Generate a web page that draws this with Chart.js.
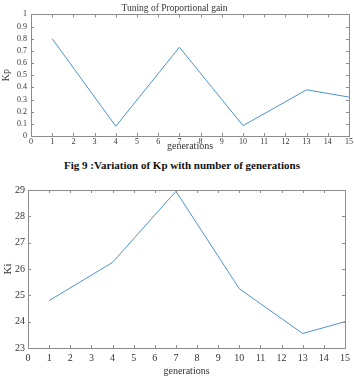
<!DOCTYPE html>
<html>
<head>
<meta charset="utf-8">
<script src="https://cdn.jsdelivr.net/npm/chart.js@4.4.0/dist/chart.umd.min.js"></script>
<style>
  body { margin: 0; background: #fff; width: 354px; height: 384px; overflow: hidden; position: relative; font-family: "Liberation Serif", serif; }
  #kp { position: absolute; left: 0; top: 0; }
  #ki { position: absolute; left: 0; top: 176px; }
  .caption { position: absolute; top: 159px; left: 0; width: 364px; text-align: center; font-weight: bold; font-size: 11px; color: #111; }
</style>
</head>
<body>
<canvas id="kp" width="354" height="152"></canvas>
<div class="caption">Fig 9 :Variation of Kp with number of generations</div>
<canvas id="ki" width="354" height="208"></canvas>
<script>
const generations = [1, 4, 7, 10, 13, 15];
const kpValues = [0.8, 0.08, 0.73, 0.085, 0.38, 0.32];
const kiValues = [24.8, 26.25, 28.95, 25.25, 23.55, 24.0];

const lineColor = "#4d94cc";
const axisColor = "#8c8c8c";
const textColor = "#333";
const serif = "'Liberation Serif', 'Times New Roman', serif";

// box round the plot + little inward ticks, like matlab
const boxTicks = {
  id: "boxTicks",
  afterDraw(chart) {
    const { ctx, chartArea: a, scales } = chart;
    const len = 3;
    ctx.save();
    ctx.strokeStyle = axisColor;
    ctx.lineWidth = 1;
    ctx.strokeRect(Math.round(a.left) + 0.5, Math.round(a.top) + 0.5, Math.round(a.width), Math.round(a.height));
    ctx.beginPath();
    scales.x.ticks.forEach((t) => {
      const px = Math.round(scales.x.getPixelForValue(t.value)) + 0.5;
      ctx.moveTo(px, a.bottom); ctx.lineTo(px, a.bottom - len);
      ctx.moveTo(px, a.top); ctx.lineTo(px, a.top + len);
    });
    scales.y.ticks.forEach((t) => {
      const py = Math.round(scales.y.getPixelForValue(t.value)) + 0.5;
      ctx.moveTo(a.left, py); ctx.lineTo(a.left + len, py);
      ctx.moveTo(a.right, py); ctx.lineTo(a.right - len, py);
    });
    ctx.stroke();
    ctx.restore();
  },
};

function makeChart(id, values, o) {
  return new Chart(document.getElementById(id), {
    type: "line",
    data: {
      datasets: [{
        data: generations.map((g, i) => ({ x: g, y: values[i] })),
        borderColor: lineColor,
        borderWidth: 1,
        pointRadius: 0,
        tension: 0,
      }],
    },
    options: {
      responsive: false,
      animation: false,
      layout: { padding: o.padding },
      plugins: {
        legend: { display: false },
        tooltip: { enabled: false },
        title: o.title
          ? { display: true, text: o.title, color: textColor, font: { family: serif, size: 9.5, weight: "normal" }, padding: { top: 3, bottom: 0 } }
          : { display: false },
      },
      scales: {
        x: {
          type: "linear", min: 0, max: 15,
          grid: { display: false, drawTicks: false },
          border: { display: false },
          ticks: { stepSize: 1, autoSkip: false, maxRotation: 0, color: textColor, padding: o.xPad, font: { family: serif, size: o.tickSize } },
          title: { display: true, text: "generations", color: textColor, font: { family: serif, size: 10 }, padding: { top: 0, bottom: o.xTitlePad } },
          afterFit: (s) => { s.height = o.xHeight; },
        },
        y: {
          min: o.yMin, max: o.yMax,
          grid: { display: false, drawTicks: false },
          border: { display: false },
          ticks: {
            stepSize: o.yStep, autoSkip: false, color: textColor, padding: o.yPad, font: { family: serif, size: o.tickSize },
            callback: (v) => String(Number(v.toFixed(2))), // 0, 0.1 ... 1 like matlab
          },
          title: { display: true, text: o.yLabel, color: textColor, font: { family: serif, size: o.yLabelSize }, padding: { top: o.yTitlePad, bottom: 0 } },
          afterFit: (s) => { s.width = o.yWidth; },
        },
      },
    },
    plugins: [boxTicks],
  });
}

makeChart("kp", kpValues, {
  title: "Tuning of Proportional gain",
  padding: { left: 0, right: 5, top: 0, bottom: 0 },
  yMin: 0, yMax: 1, yStep: 0.1, yLabel: "Kp", yLabelSize: 10,
  tickSize: 8, xPad: 1, yPad: 4, xHeight: 16, xTitlePad: 0, yWidth: 31, yTitlePad: 0,
});

makeChart("ki", kiValues, {
  title: null,
  padding: { left: 0, right: 7, top: 14, bottom: 0 },
  yMin: 23, yMax: 29, yStep: 1, yLabel: "Ki", yLabelSize: 11,
  tickSize: 10, xPad: 4, yPad: 3, xHeight: 36, xTitlePad: 7, yWidth: 28, yTitlePad: 2,
});
</script>
</body>
</html>
